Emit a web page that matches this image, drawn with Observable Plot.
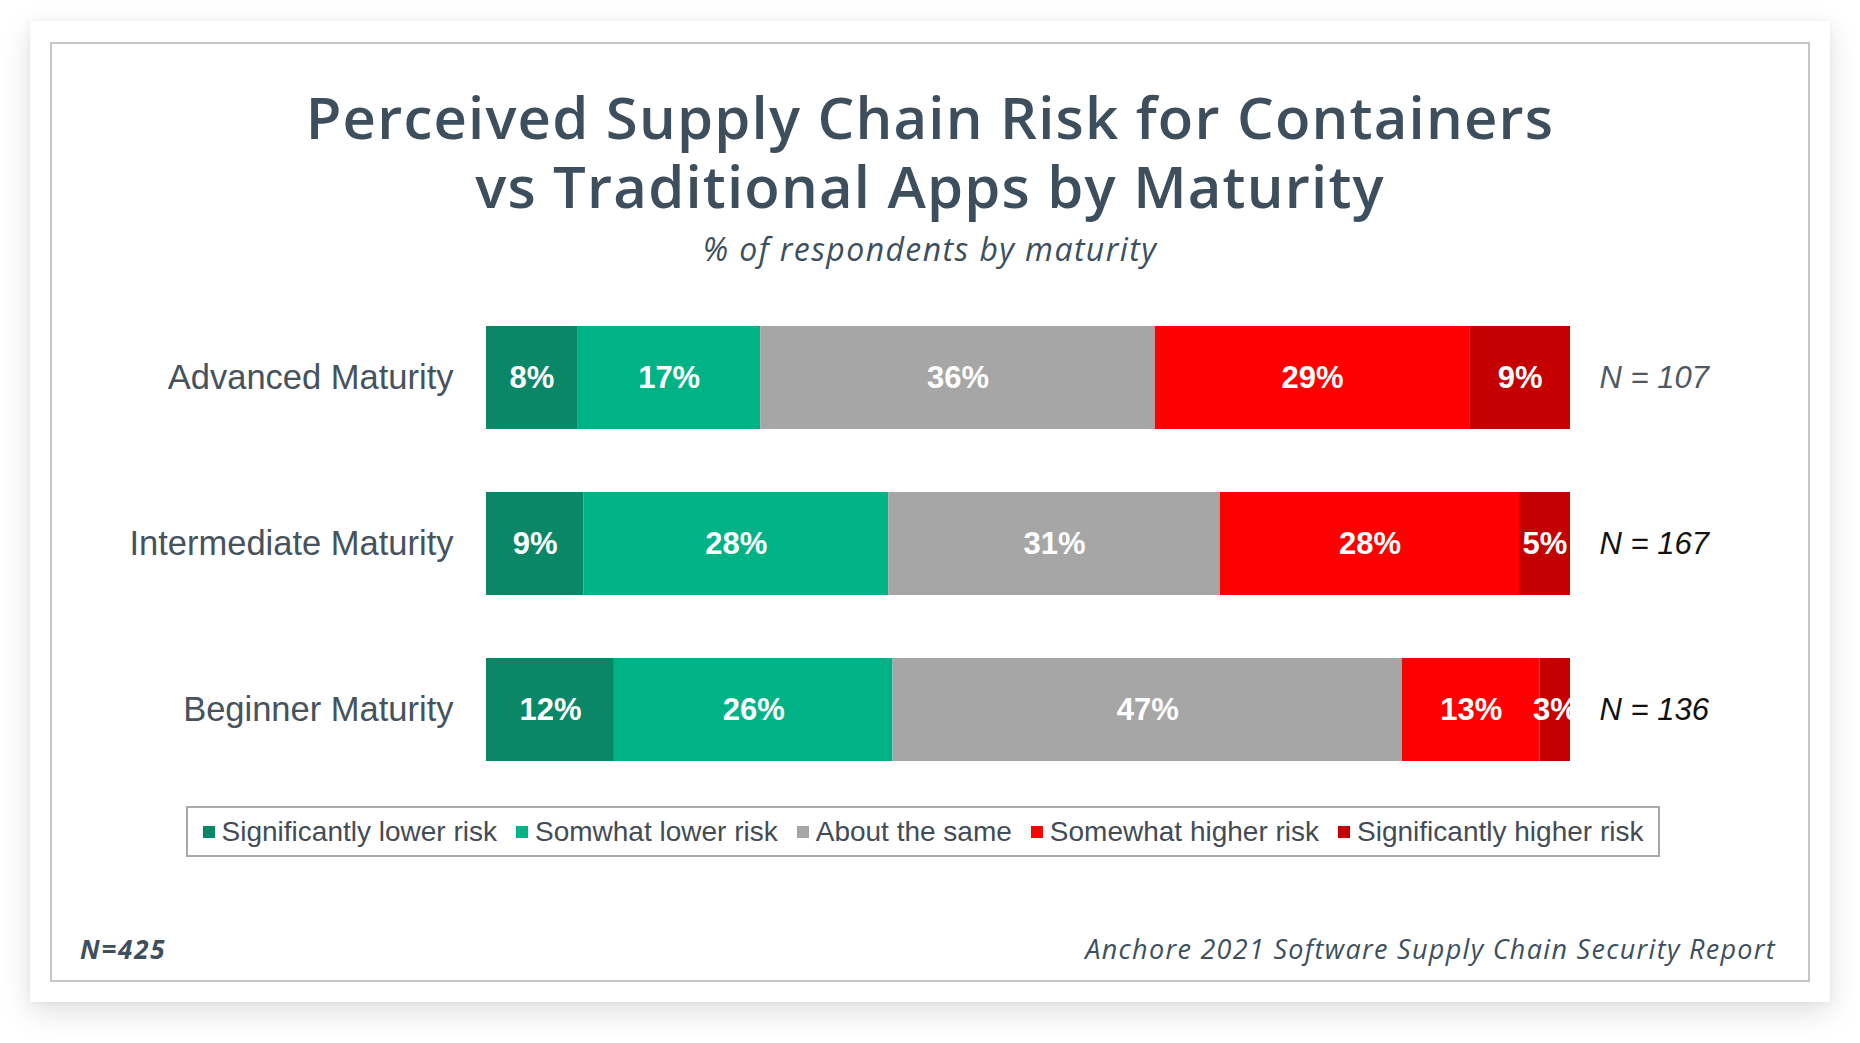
<!DOCTYPE html>
<html>
<head>
<meta charset="utf-8">
<script src="https://cdn.jsdelivr.net/npm/d3@7"></script>
<script src="https://cdn.jsdelivr.net/npm/@observablehq/plot@0.6"></script>
<style>
  html, body { margin: 0; padding: 0; background: #ffffff; }
  #page { position: relative; width: 1860px; height: 1043px; overflow: hidden; background: #fff; }
  #card { position: absolute; left: 30px; top: 21px; width: 1800px; height: 981px; background: #fff;
          box-shadow: 0 10px 28px rgba(0,0,0,0.13), 0 0 6px rgba(0,0,0,0.05); }
  #frame { position: absolute; left: 50px; top: 42px; width: 1756px; height: 936px; border: 2px solid #c6c6c6; }
  #title { position: absolute; left: 0; top: 82px; width: 1860px; text-align: center; color: #3d4f5c;
           font-family: "Open Sans", sans-serif; font-weight: 600; font-size: 58px; letter-spacing: 1.2px;
           line-height: 69px; white-space: nowrap; }
  #subtitle { position: absolute; left: 0; top: 233px; width: 1860px; text-align: center; color: #3d4f5c;
              font-family: "Open Sans", sans-serif; font-style: italic; font-size: 32px; letter-spacing: 1.4px; line-height: 1; }
  #chart { position: absolute; left: 0; top: 300px; }
  #legend { position: absolute; left: 186px; top: 806px; width: 1470px; height: 47px; border: 2px solid #a9a9a9;
            display: flex; align-items: center; justify-content: center; gap: 19px;
            font-family: "Liberation Sans", Arial, sans-serif; font-size: 28px; color: #434c55; }
  .item { display: flex; align-items: center; white-space: nowrap; }
  .sw { width: 12px; height: 12px; margin-right: 7px; }
  #nTotal { position: absolute; left: 80px; top: 936px; font-family: "Open Sans", sans-serif; font-weight: 700;
            font-style: italic; font-size: 26px; letter-spacing: 1.8px; color: #3d4f5c; line-height: 1; }
  #source { position: absolute; right: 84px; top: 935px; font-family: "Open Sans", sans-serif; font-style: italic;
            font-size: 27px; letter-spacing: 1.3px; color: #3d4f5c; line-height: 1; white-space: nowrap; }
</style>
</head>
<body>
<div id="page">
  <div id="card"></div>
  <div id="frame"></div>
  <div id="title">Perceived Supply Chain Risk for Containers<br>vs Traditional Apps by Maturity</div>
  <div id="subtitle">% of respondents by maturity</div>
  <div id="chart"></div>
  <div id="legend"></div>
  <div id="nTotal">N=425</div>
  <div id="source">Anchore 2021 Software Supply Chain Security Report</div>
</div>
<script>
const groups = ["Advanced Maturity", "Intermediate Maturity", "Beginner Maturity"];
const categories = ["Significantly lower risk", "Somwhat lower risk", "About the same", "Somewhat higher risk", "Significantly higher risk"];
const colors = ["#0a8766", "#00b386", "#a6a6a6", "#ff0000", "#c40000"];
// shares (%) per group, in category order
const advanced = [8.4, 16.9, 36.4, 29.0, 9.3];
const intermediate = [9.0, 28.1, 30.6, 27.6, 4.7];
const beginner = [11.8, 25.7, 47.0, 12.7, 2.8];
const sampleSizes = [107, 167, 136];

const series = [advanced, intermediate, beginner];
const data = [];
groups.forEach((g, gi) => {
  categories.forEach((c, ci) => data.push({group: g, category: c, value: series[gi][ci]}));
});
const nData = groups.map((g, i) => ({group: g, n: sampleSizes[i]}));

const chart = Plot.plot({
  width: 1860,
  height: 490,
  marginLeft: 486,
  marginRight: 290,
  marginTop: 8,
  marginBottom: 11,
  style: {fontFamily: "'Liberation Sans', Arial, sans-serif", color: "#46525c", background: "transparent", overflow: "visible"},
  x: {domain: [0, 100], axis: null},
  y: {domain: groups, paddingInner: 0.377, paddingOuter: 0.1, label: null},
  color: {domain: categories, range: colors},
  marks: [
    Plot.barX(data, Plot.stackX({x: "value", y: "group", fill: "category", order: categories})),
    Plot.text(data, Plot.stackX({x: "value", y: "group", z: "category", order: categories,
      text: d => Math.round(d.value) + "%", fill: "white", fontSize: 31, fontWeight: "bold", clip: true})),
    Plot.text(nData, {x: () => 100, y: "group", text: d => "N = " + d.n, dx: 29, textAnchor: "start",
      fontSize: 31, fontStyle: "italic", fill: d => d.group === groups[0] ? "#4f5963" : "#111111"}),
    Plot.axisY({tickSize: 0, tickPadding: 33, fontSize: 34.5, label: null})
  ]
});
document.getElementById("chart").appendChild(chart);

const legend = document.getElementById("legend");
categories.forEach((c, i) => {
  const item = document.createElement("div");
  item.className = "item";
  const sw = document.createElement("span");
  sw.className = "sw";
  sw.style.background = colors[i];
  const label = document.createElement("span");
  label.textContent = c;
  item.appendChild(sw);
  item.appendChild(label);
  legend.appendChild(item);
});
</script>
</body>
</html>
